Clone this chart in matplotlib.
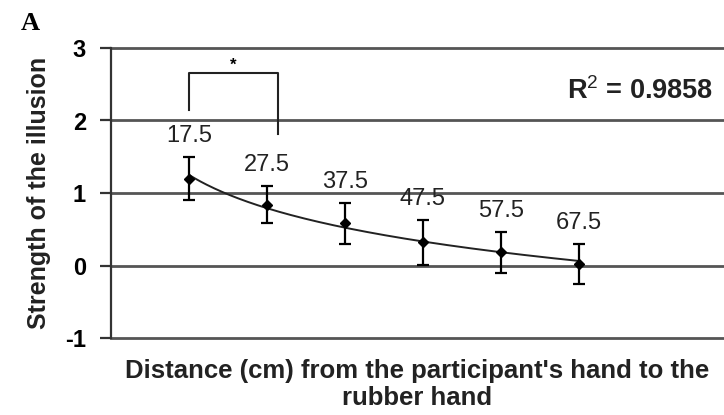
import numpy as np
import matplotlib
matplotlib.use("Agg")
import matplotlib.pyplot as plt

# distance (cm) from participant's hand to the rubber hand
distances = ["17.5", "27.5", "37.5", "47.5", "57.5", "67.5"]
strength = [1.20, 0.84, 0.58, 0.32, 0.18, 0.02]
err = [0.30, 0.26, 0.28, 0.31, 0.28, 0.28]
r2_text = "R$^2$ = 0.9858"

plt.rcParams["font.family"] = ["Liberation Sans", "DejaVu Sans"]
plt.rcParams["axes.unicode_minus"] = False
plt.rcParams["mathtext.fontset"] = "custom"
plt.rcParams["mathtext.rm"] = "Liberation Sans"

x = np.arange(1, len(strength) + 1)
y = np.array(strength)
e = np.array(err)

fig = plt.figure(figsize=(7.24, 4.15), dpi=100)
ax = fig.add_axes([111 / 724, 1 - 338 / 415, 1 - 111 / 724, (338 - 48) / 415])

ax.set_xlim(0, 7.86)
ax.set_ylim(-1, 3)
ax.set_yticks([-1, 0, 1, 2, 3])
for g in [-1, 0, 1, 2, 3]:
    ax.axhline(g, color="#555555", lw=2.0, zorder=1, clip_on=False)

# logarithmic trendline fitted to the means (Excel-style, x = 1..n)
b, a = np.polyfit(np.log(x), y, 1)
xf = np.linspace(1, len(x), 200)
ax.plot(xf, a + b * np.log(xf), color="#222222", lw=1.4, zorder=2)

ax.errorbar(x, y, yerr=e, fmt="D", color="black", ms=5.5, capsize=4,
            elinewidth=1.6, capthick=1.6, zorder=3)

for xi, yi, ei, lab in zip(x, y, e, distances):
    ax.annotate(lab, (xi, yi + ei), xytext=(0, 15), textcoords="offset points",
                ha="center", va="center", fontsize=17, color="#222222")

# significance bracket between the first two distances
ax.plot([1, 1, 2.14, 2.14], [2.15, 2.65, 2.65, 1.82], color="#222222", lw=1.5,
        zorder=3)
ax.text(1.57, 2.76, "*", ha="center", va="center", fontsize=12,
        fontweight="bold")

ax.text(0.982, 0.85, r2_text, transform=ax.transAxes, ha="right",
        va="center", fontsize=19.5, fontweight="bold", color="#222222")

for s in ["top", "right", "bottom"]:
    ax.spines[s].set_visible(False)
ax.spines["left"].set_linewidth(1.6)
ax.spines["left"].set_color("#333333")
ax.set_xticks([])
ax.tick_params(axis="y", length=8, width=1.6, color="#333333", pad=10,
               labelsize=17)
for t in ax.get_yticklabels():
    t.set_fontweight("bold")

ax.set_ylabel("Strength of the illusion", fontsize=18, fontweight="bold",
              labelpad=10, color="#222222")
ax.set_xlabel("Distance (cm) from the participant's hand to the\nrubber hand",
              fontsize=18.5, fontweight="bold", labelpad=15, linespacing=1.18,
              color="#222222")

fig.text(21 / 724, 1 - 24 / 415, "A", fontsize=19, fontweight="bold",
         family="Liberation Serif", va="center")

fig.savefig("out.png", dpi=100)
